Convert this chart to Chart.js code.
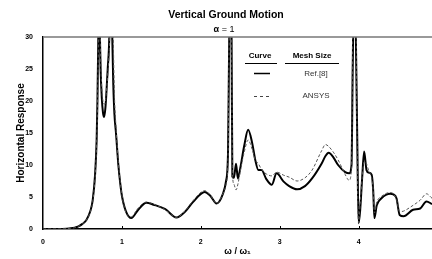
<!DOCTYPE html>
<html>
<head>
<meta charset="utf-8">
<script src="https://cdn.jsdelivr.net/npm/chart.js@4"></script>
<style>
  body { margin: 0; background: #fff; }
  canvas { display: block; }
</style>
</head>
<body>
<canvas id="myChart" width="432" height="259"></canvas>
<script>
// frequency ratio w / w1 (shared by both curves)
const omega = [
  0, 0.1, 0.2, 0.3, 0.35, 0.4, 0.45, 0.5, 0.55, 0.6,
  0.63, 0.66, 0.68, 0.69, 0.70, 0.705, 0.71, 0.72, 0.73, 0.745,
  0.76, 0.775, 0.79, 0.80, 0.82, 0.84, 0.85, 0.865, 0.878, 0.89,
  0.905, 0.925, 0.955, 0.98, 1.0, 1.05, 1.12, 1.2, 1.31, 1.4,
  1.55, 1.69, 1.8, 1.9, 2.05, 2.12, 2.2, 2.28, 2.32, 2.345,
  2.36, 2.375, 2.39, 2.40, 2.42, 2.446, 2.47, 2.50, 2.55, 2.60,
  2.65, 2.69, 2.73, 2.77, 2.83, 2.90, 2.96, 3.05, 3.12, 3.22,
  3.32, 3.41, 3.53, 3.58, 3.62, 3.68, 3.74, 3.83, 3.88, 3.91,
  3.925, 3.945, 3.965, 3.985, 4.0, 4.02, 4.045, 4.07, 4.10, 4.13,
  4.165, 4.185, 4.20, 4.23, 4.29, 4.40, 4.44, 4.48, 4.52, 4.57,
  4.69, 4.78, 4.86, 4.93
];

// Ref.[8] (solid)
const refResponse = [
  0, 0, 0, 0.05, 0.1, 0.2, 0.4, 0.8, 1.4, 2.8,
  4.5, 8.5, 14, 20, 29, 36, 40, 31, 25, 20.5,
  18.2, 17.5, 18.8, 20.5, 25, 30, 38, 42, 30, 23,
  18, 15, 10, 7, 5.2, 2.8, 1.7, 2.9, 4.1, 3.8,
  3.1, 1.8, 2.7, 4.2, 5.8, 5.2, 4.0, 5.5, 7.5, 12,
  30, 42, 30, 8.2, 8, 10.2, 7.9, 9.5, 13, 15.5,
  13.5, 10.8, 9.2, 9.2, 7.8, 6.9, 8.7, 7.4, 6.7, 6.2,
  6.7, 7.9, 10.2, 11.4, 11.9, 11.2, 10, 8.9, 8.7, 10,
  25, 42, 30, 12, 0.9, 3, 8, 12.1, 9.2, 8.8,
  8.5, 6, 1.7, 3.7, 4.8, 5.5, 5.4, 4.8, 2.2, 2.0,
  3.0, 3.2, 4.3, 3.9
];

// ANSYS (dashed)
const ansysResponse = [
  0, 0, 0, 0.05, 0.1, 0.2, 0.4, 0.8, 1.4, 2.7,
  4.3, 8, 13.5, 19, 27, 33, 40, 33, 27, 22,
  20, 19.5, 19.8, 21, 24, 28, 32, 40, 38, 30,
  21, 16, 10.5, 7.2, 5.3, 2.6, 1.9, 3.2, 4.2, 3.9,
  3.0, 1.8, 2.8, 4.4, 6.0, 5.3, 4.0, 5.5, 7, 11,
  30, 42, 32, 9, 7, 6.1, 7, 9, 12, 13.9,
  12.5, 10.8, 10.2, 9.3, 8.6, 8.3, 8.9, 8.4, 8.1, 7.5,
  8, 9.2, 12.2, 13.2, 12.9, 12, 10.8, 8.5, 7.6, 9.5,
  30, 42, 35, 8, 1, 4, 8, 10.5, 10.2, 9,
  8, 6, 2.5, 4.2, 5.1, 5.7, 5.5, 4.6, 2.7, 2.8,
  3.7, 4.5, 5.5, 4.8
];

const xTicks = [0, 1, 2, 3, 4];
const yTicks = [0, 5, 10, 15, 20, 25, 30];

const FONT = "'Liberation Sans', Arial, sans-serif";

function toPoints(ys) {
  return omega.map((x, i) => ({ x: x, y: ys[i] }));
}

// titles, top frame line, little x ticks and the table-style legend
const decor = {
  id: 'decor',
  afterDraw(chart) {
    const { ctx, chartArea } = chart;
    const xs = chart.scales.x;
    ctx.save();

    // top frame line
    ctx.strokeStyle = '#777';
    ctx.lineWidth = 1.5;
    ctx.beginPath();
    ctx.moveTo(chartArea.left, chartArea.top);
    ctx.lineTo(chartArea.right, chartArea.top);
    ctx.stroke();

    // small inward ticks on the x axis
    ctx.strokeStyle = '#000';
    ctx.lineWidth = 1;
    xTicks.slice(1).forEach(v => {
      const px = Math.round(xs.getPixelForValue(v)) + 0.5;
      ctx.beginPath();
      ctx.moveTo(px, chartArea.bottom);
      ctx.lineTo(px, chartArea.bottom - 3);
      ctx.stroke();
    });

    ctx.fillStyle = '#000';
    ctx.textAlign = 'center';
    ctx.textBaseline = 'middle';

    // title
    ctx.font = 'bold 10.5px ' + FONT;
    ctx.fillText('Vertical Ground Motion', 226, 15);

    // subtitle  a = 1
    ctx.font = 'bold 9px ' + FONT;
    const wA = ctx.measureText('α').width;
    ctx.font = '9px ' + FONT;
    const wR = ctx.measureText(' = 1').width;
    let sx = 224 - (wA + wR) / 2;
    ctx.textAlign = 'left';
    ctx.font = 'bold 9px ' + FONT;
    ctx.fillText('α', sx, 29.5);
    ctx.font = '9px ' + FONT;
    ctx.fillText(' = 1', sx + wA, 29.5);

    // axis titles
    ctx.textAlign = 'center';
    ctx.font = 'bold 9px ' + FONT;
    ctx.fillText('ω / ω₁', (chartArea.left + chartArea.right) / 2, 252);

    ctx.save();
    ctx.translate(21, (chartArea.top + chartArea.bottom) / 2);
    ctx.rotate(-Math.PI / 2);
    ctx.font = 'bold 10px ' + FONT;
    ctx.fillText('Horizontal Response', 0, 0);
    ctx.restore();

    // legend table
    ctx.font = 'bold 8px ' + FONT;
    ctx.fillText('Curve', 260, 56);
    ctx.fillText('Mesh Size', 312, 56);
    ctx.lineWidth = 1;
    ctx.strokeStyle = '#000';
    ctx.beginPath();
    ctx.moveTo(245, 63.5); ctx.lineTo(277, 63.5);
    ctx.moveTo(285, 63.5); ctx.lineTo(339, 63.5);
    ctx.stroke();

    ctx.lineWidth = 1.5;
    ctx.beginPath();
    ctx.moveTo(254, 73.5); ctx.lineTo(270, 73.5);
    ctx.stroke();

    ctx.lineWidth = 1;
    ctx.strokeStyle = '#444';
    ctx.setLineDash([3, 3]);
    ctx.beginPath();
    ctx.moveTo(254, 96.5); ctx.lineTo(272, 96.5);
    ctx.stroke();
    ctx.setLineDash([]);

    ctx.fillStyle = '#333';
    ctx.font = '8px ' + FONT;
    ctx.fillText('Ref.[8]', 316, 74);
    ctx.fillText('ANSYS', 316, 96);

    ctx.restore();
  }
};

const tickFont = { family: FONT, size: 7, weight: 'bold' };

const config = {
  type: 'line',
  data: {
    datasets: [
      {
        label: 'ANSYS',
        data: toPoints(ansysResponse),
        borderColor: '#555',
        borderWidth: 1,
        borderDash: [3, 2],
        pointRadius: 0,
        cubicInterpolationMode: 'monotone'
      },
      {
        label: 'Ref.[8]',
        data: toPoints(refResponse),
        borderColor: '#000',
        borderWidth: 2,
        pointRadius: 0,
        cubicInterpolationMode: 'monotone'
      }
    ]
  },
  options: {
    responsive: false,
    animation: false,
    layout: { padding: { top: 37, right: 0, left: 0, bottom: 0 } },
    plugins: {
      legend: { display: false },
      tooltip: { enabled: false }
    },
    scales: {
      x: {
        type: 'linear',
        min: 0,
        max: 4.93,
        afterBuildTicks: (s) => { s.ticks = xTicks.map(v => ({ value: v })); },
        ticks: { font: tickFont, color: '#000', padding: 9, maxRotation: 0 },
        grid: { display: false, drawTicks: false },
        border: { color: '#000', width: 1.5 },
        afterFit: (s) => { s.height = 30; }
      },
      y: {
        min: 0,
        max: 30,
        afterBuildTicks: (s) => { s.ticks = yTicks.map(v => ({ value: v })); },
        ticks: { font: tickFont, color: '#000', padding: 10 },
        grid: { display: false, drawTicks: false },
        border: { color: '#000', width: 1.5 },
        afterFit: (s) => { s.width = 43; }
      }
    }
  },
  plugins: [decor]
};

new Chart(document.getElementById('myChart'), config);
</script>
</body>
</html>
